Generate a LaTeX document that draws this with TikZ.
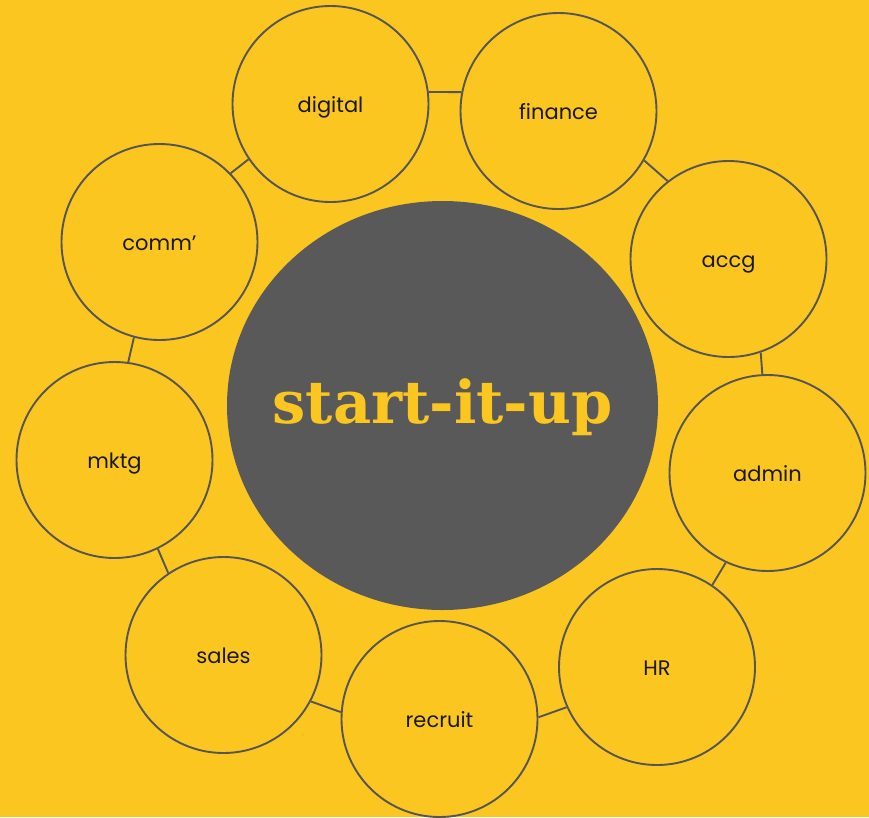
\documentclass[tikz,border=0pt]{standalone}
\usepackage{fontspec}
\setmainfont{Poppins}
\newfontfamily\logofont{DejaVu Serif}
\usetikzlibrary{shapes}
\definecolor{mustard}{HTML}{FCC621}
\definecolor{slate}{HTML}{595959}
\definecolor{rim}{HTML}{555555}

\begin{document}
\begin{tikzpicture}[
	x=1pt, y=-1pt,
	ln/.style={draw=rim, line width=1.9pt},
	dept/.style={
	  circle,
	  ln,
	  fill=mustard,
	  minimum size=196pt,
	  inner sep=0pt,
	  text height=20pt,
	  text depth=3pt,
	  text=black!90,
	  font=\fontsize{21}{24}\selectfont
	  },
	hubnode/.style={
	  ellipse,
	  fill=slate,
	  minimum width=431pt,
	  minimum height=409pt,
	  inner sep=0pt
	  },
	logo/.style={
	  text=mustard,
	  font=\logofont\bfseries\fontsize{59}{64}\selectfont
	  }
	]
		\fill[mustard] (0,0) rectangle (869,817);
		\useasboundingbox (0,0) rectangle (869,817);

		\node[hubnode] (hub) at (442.5,405.5) {};
		\node[logo] (title) at ([yshift=-2pt]hub.center) {start-it-up};

		\node[dept] (digital) at (330.5,104) {digital};
		\node[dept] (finance) at (558.5,111) {finance};
		\node[dept] (accg) at (728.5,259) {accg};
		\node[dept] (admin) at (767.5,473) {admin};
		\node[dept] (hr) at (657,667) {HR};
		\node[dept] (recruit) at (439.5,719) {recruit};
		\node[dept] (sales) at (223.5,655) {sales};
		\node[dept] (mktg) at (114.5,460) {mktg};
		\node[dept] (comm) at (159.5,242) {comm'};

		% short links round the ring
		\draw[ln] (digital.7) -- (finance.169);
		\draw[ln] (finance.-30) -- (accg.128);
		\draw[ln] (accg.-71) -- (admin.93);
		\draw[ln] (admin.-115) -- (hr.56);
		\draw[ln] (hr.-156) -- (recruit.1);
		\draw[ln] (recruit.176) -- (sales.-28);
		\draw[ln] (sales.124) -- (mktg.-64);
		\draw[ln] (mktg.82) -- (comm.-105);
		\draw[ln] (comm.44) -- (digital.-146);
	\end{tikzpicture}
\end{document}
